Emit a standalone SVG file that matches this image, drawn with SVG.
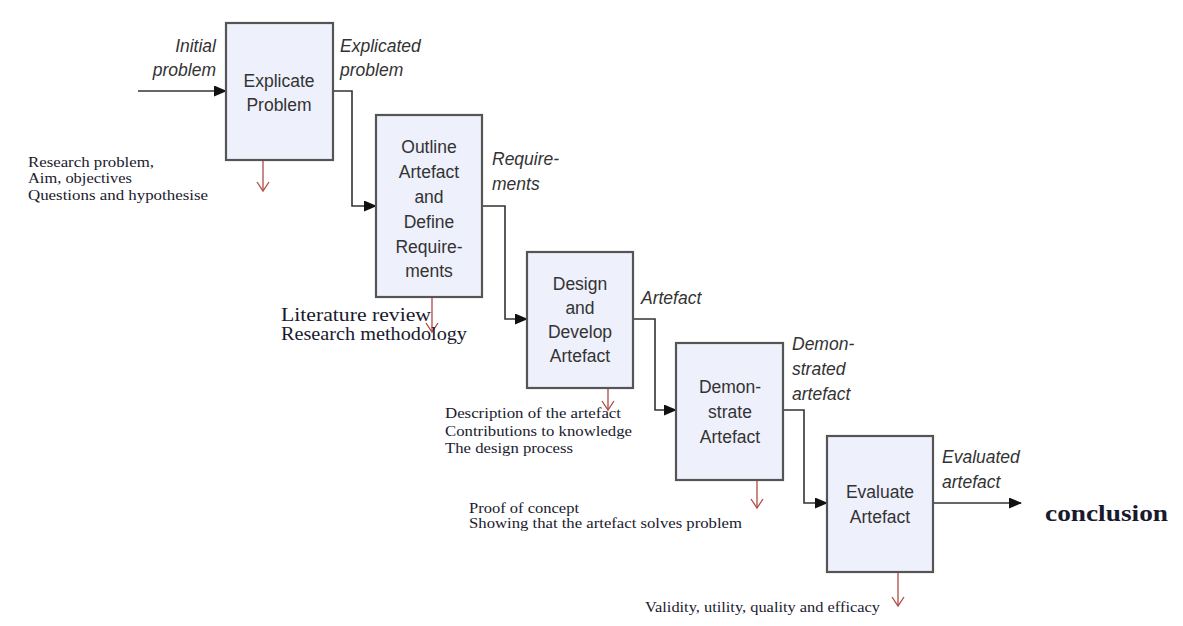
<svg xmlns="http://www.w3.org/2000/svg" width="1183" height="626" viewBox="0 0 1183 626">
<style>
.box{fill:#eef0fc;stroke:#555;stroke-width:2.2}
.bt{font-family:"Liberation Sans",Arial,sans-serif;font-size:17.5px;fill:#333;text-anchor:middle}
.el{font-family:"Liberation Sans",Arial,sans-serif;font-size:17.5px;font-style:italic;fill:#333}
.note{font-family:"Liberation Serif","Times New Roman",serif;fill:#1a1a2e}
.con{fill:none;stroke:#333;stroke-width:1.6}
.red{fill:none;stroke:#b04a44;stroke-width:1.3}
</style>
<defs>
<marker id="ah" markerWidth="13" markerHeight="11" refX="12" refY="5.5" orient="auto" markerUnits="userSpaceOnUse">
<path d="M0,0 L13,5.5 L0,11 Z" fill="#111"/>
</marker>
</defs>
<rect width="1183" height="626" fill="#fff"/>

<g id="connectors">
<path class="con" d="M138,91 H226" marker-end="url(#ah)"/>
<path class="con" d="M333,91 H352 V206 H376" marker-end="url(#ah)"/>
<path class="con" d="M482,206 H505 V319 H527" marker-end="url(#ah)"/>
<path class="con" d="M633,319 H655 V410 H676" marker-end="url(#ah)"/>
<path class="con" d="M783,410 H804 V503 H827" marker-end="url(#ah)"/>
<path class="con" d="M933,503 H1021" marker-end="url(#ah)"/>
<line x1="263" y1="160" x2="263" y2="191" class="red"/>
<path class="red" d="M257,182 L263,191 L269,182"/>
<line x1="432" y1="297" x2="432" y2="332" class="red"/>
<path class="red" d="M426,323 L432,332 L438,323"/>
<line x1="608" y1="388" x2="608" y2="410" class="red"/>
<path class="red" d="M602,401 L608,410 L614,401"/>
<line x1="757" y1="480" x2="757" y2="508" class="red"/>
<path class="red" d="M751,499 L757,508 L763,499"/>
<line x1="898" y1="572" x2="898" y2="606" class="red"/>
<path class="red" d="M892,597 L898,606 L904,597"/>
</g>

<g id="edge-labels">
<text class="el" x="216" y="52" text-anchor="end">Initial</text>
<text class="el" x="216" y="76" text-anchor="end">problem</text>
<text class="el" x="340" y="52">Explicated</text>
<text class="el" x="340" y="76">problem</text>
<text class="el" x="492" y="165">Require-</text>
<text class="el" x="492" y="190">ments</text>
<text class="el" x="641" y="304">Artefact</text>
<text class="el" x="792" y="350">Demon-</text>
<text class="el" x="792" y="375">strated</text>
<text class="el" x="792" y="400">artefact</text>
<text class="el" x="942" y="463">Evaluated</text>
<text class="el" x="942" y="488">artefact</text>
</g>

<g id="n1">
<rect class="box" x="226" y="23" width="107" height="137"/>
<text class="bt" x="279" y="87">Explicate</text>
<text class="bt" x="279" y="111">Problem</text>
</g>
<g id="n2">
<rect class="box" x="376" y="115" width="106" height="182"/>
<text class="bt" x="429" y="153">Outline</text>
<text class="bt" x="429" y="178">Artefact</text>
<text class="bt" x="429" y="203">and</text>
<text class="bt" x="429" y="228">Define</text>
<text class="bt" x="429" y="253">Require-</text>
<text class="bt" x="429" y="277">ments</text>
</g>
<g id="n3">
<rect class="box" x="527" y="252" width="106" height="136"/>
<text class="bt" x="580" y="290">Design</text>
<text class="bt" x="580" y="314">and</text>
<text class="bt" x="580" y="338">Develop</text>
<text class="bt" x="580" y="362">Artefact</text>
</g>
<g id="n4">
<rect class="box" x="676" y="343" width="107" height="137"/>
<text class="bt" x="730" y="393">Demon-</text>
<text class="bt" x="730" y="418">strate</text>
<text class="bt" x="730" y="443">Artefact</text>
</g>
<g id="n5">
<rect class="box" x="827" y="436" width="106" height="136"/>
<text class="bt" x="880" y="498">Evaluate</text>
<text class="bt" x="880" y="523">Artefact</text>
</g>

<g id="notes">
<text class="note" font-size="15.5" x="28" y="167" textLength="126" lengthAdjust="spacingAndGlyphs">Research problem,</text>
<text class="note" font-size="15.5" x="28" y="183" textLength="104" lengthAdjust="spacingAndGlyphs">Aim, objectives</text>
<text class="note" font-size="15.5" x="28" y="200" textLength="180" lengthAdjust="spacingAndGlyphs">Questions and hypothesise</text>
<text class="note" font-size="18" x="281" y="321" textLength="150" lengthAdjust="spacingAndGlyphs">Literature review</text>
<text class="note" font-size="18" x="281" y="340" textLength="186" lengthAdjust="spacingAndGlyphs">Research methodology</text>
<text class="note" font-size="15" x="445" y="418" textLength="176" lengthAdjust="spacingAndGlyphs">Description of the artefact</text>
<text class="note" font-size="15" x="445" y="436" textLength="187" lengthAdjust="spacingAndGlyphs">Contributions to knowledge</text>
<text class="note" font-size="15" x="445" y="453" textLength="128" lengthAdjust="spacingAndGlyphs">The design process</text>
<text class="note" font-size="15" x="469" y="513" textLength="110" lengthAdjust="spacingAndGlyphs">Proof of concept</text>
<text class="note" font-size="15" x="469" y="528" textLength="273" lengthAdjust="spacingAndGlyphs">Showing that the artefact  solves problem</text>
<text class="note" font-size="15" x="645" y="612" textLength="235" lengthAdjust="spacingAndGlyphs">Validity, utility, quality and efficacy</text>
<text class="note" font-size="24" font-weight="bold" x="1045" y="521" textLength="123" lengthAdjust="spacingAndGlyphs" fill="#111">conclusion</text>
</g>
</svg>
